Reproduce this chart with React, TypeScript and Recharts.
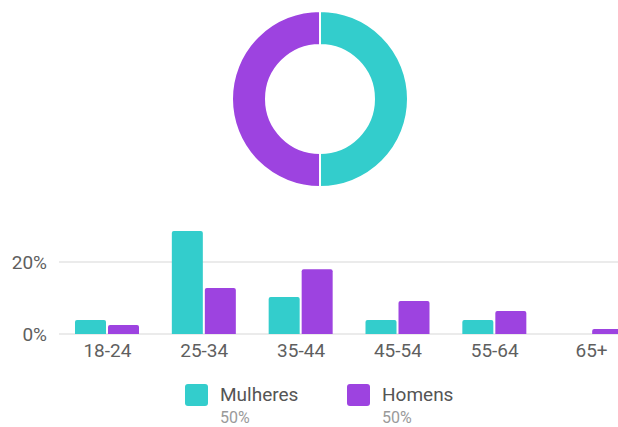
import { Bar, BarChart, CartesianGrid, Cell, Pie, PieChart, XAxis, YAxis } from "recharts";

const ageGroups = ["18-24", "25-34", "35-44", "45-54", "55-64", "65+"];
const mulheres = [3.9, 28.6, 10.3, 3.9, 3.9, 0];
const homens = [2.5, 12.8, 18.0, 9.2, 6.4, 1.4];
const genderNames = ["Mulheres", "Homens"];
const genderShare = [50, 50];
const yTicks = [0, 20];

const TEAL = "#33cdcc";
const PURPLE = "#9d43e0";
const colors = [TEAL, PURPLE];

const barData = ageGroups.map((age, i) => ({ age, mulheres: mulheres[i], homens: homens[i] }));
const pieData = genderNames.map((name, i) => ({ name, value: genderShare[i] }));

export default function App() {
  return (
    <div
      style={{
        position: "fixed",
        left: 0,
        top: 0,
        width: 618,
        height: 427,
        overflow: "hidden",
        background: "#ffffff",
        fontFamily: "Roboto, sans-serif"
      }}
    >
      <div style={{ position: "absolute", left: 0, top: 0 }}>
        <PieChart width={618} height={200} margin={{ top: 0, right: 0, bottom: 0, left: 0 }}>
          <Pie
            data={pieData}
            dataKey="value"
            cx={320}
            cy={99}
            innerRadius={54}
            outerRadius={88}
            startAngle={90}
            endAngle={-270}
            stroke="#ffffff"
            strokeWidth={2}
            isAnimationActive={false}
          >
            {pieData.map((d, i) => (
              <Cell key={d.name} fill={colors[i]} />
            ))}
          </Pie>
        </PieChart>
      </div>

      <div style={{ position: "absolute", left: 0, top: 200 }}>
        <BarChart
          width={640}
          height={227}
          data={barData}
          margin={{ top: 26, right: 0, bottom: 53, left: 0 }}
          barSize={31}
          barGap={2}
        >
          <CartesianGrid vertical={false} horizontalValues={yTicks} stroke="#ebebeb" strokeWidth={2} />
          <XAxis
            dataKey="age"
            axisLine={false}
            tickLine={false}
            tickSize={0}
            tickMargin={10}
            height={40}
            interval={0}
            tick={{ fill: "#5f5f5f", fontSize: 19 }}
          />
          <YAxis
            width={59}
            domain={[0, 30]}
            ticks={yTicks}
            axisLine={false}
            tickLine={false}
            tickSize={0}
            tickMargin={12}
            tickFormatter={(v) => `${v}%`}
            tick={{ fill: "#5f5f5f", fontSize: 19 }}
          />
          <Bar dataKey="mulheres" fill={TEAL} radius={[2, 2, 0, 0]} isAnimationActive={false} />
          <Bar dataKey="homens" fill={PURPLE} radius={[2, 2, 0, 0]} isAnimationActive={false} />
        </BarChart>
      </div>

      {genderNames.map((name, i) => (
        <div key={name} style={{ position: "absolute", left: i === 0 ? 185 : 347, top: 383 }}>
          <div
            style={{
              position: "absolute",
              left: 0,
              top: 1,
              width: 23,
              height: 22,
              borderRadius: 3,
              background: colors[i]
            }}
          />
          <div
            style={{
              position: "absolute",
              left: 35,
              top: 0,
              fontSize: 19,
              color: "#555555",
              whiteSpace: "nowrap",
              lineHeight: "24px"
            }}
          >
            {name}
          </div>
          <div
            style={{
              position: "absolute",
              left: 35,
              top: 25,
              fontSize: 16,
              color: "#9a9a9a",
              whiteSpace: "nowrap",
              lineHeight: "20px"
            }}
          >
            {genderShare[i]}%
          </div>
        </div>
      ))}
    </div>
  );
}
